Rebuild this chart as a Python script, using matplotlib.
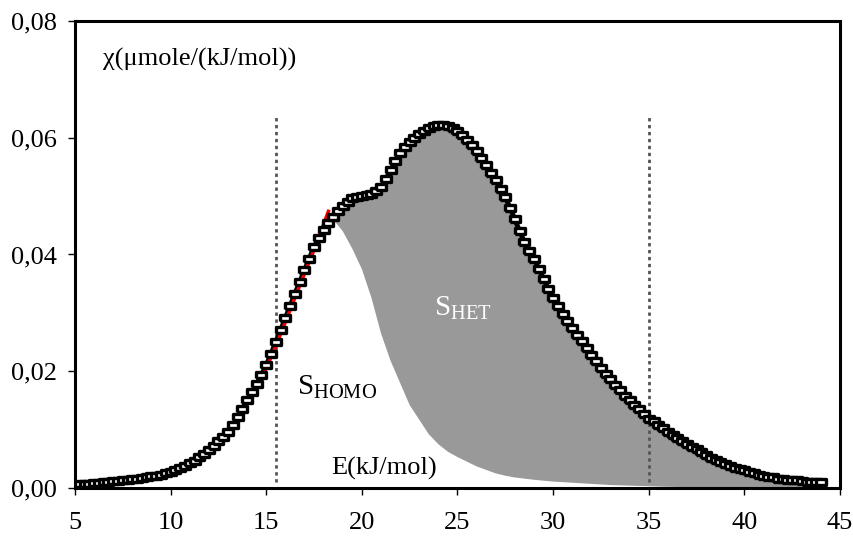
import numpy as np
import matplotlib
matplotlib.use("Agg")
import matplotlib.pyplot as plt

plt.rcParams['font.family'] = ['Liberation Serif', 'DejaVu Serif']
plt.rcParams['mathtext.fontset'] = 'custom'
plt.rcParams['mathtext.rm'] = 'Liberation Serif'

# measured isotherm distribution, E from 5.25 to 44.0 step 0.25
e_start, e_step = 5.25, 0.25
chi_exp = [
    0.0006, 0.0007, 0.0007,
    0.0008, 0.0009, 0.0010, 0.0011,
    0.0012, 0.0012, 0.0013, 0.0014,
    0.0015, 0.0016, 0.0017, 0.0018,
    0.0020, 0.0021, 0.0023, 0.0025,
    0.0028, 0.0031, 0.0035, 0.0038,
    0.0042, 0.0047, 0.0053, 0.0059,
    0.0065, 0.0072, 0.0080, 0.0088,
    0.0096, 0.0108, 0.0122, 0.0136,
    0.0150, 0.0164, 0.0178, 0.0194,
    0.0210, 0.0230, 0.0250, 0.0270,
    0.0291, 0.0312, 0.0333, 0.0353,
    0.0373, 0.0393, 0.0413, 0.0429,
    0.0442, 0.0454, 0.0465, 0.0475,
    0.0483, 0.0490, 0.0496, 0.0499,
    0.0501, 0.0502, 0.0504, 0.0508,
    0.0515, 0.0529, 0.0545, 0.0560,
    0.0574, 0.0585, 0.0593, 0.0600,
    0.0607, 0.0612, 0.0617, 0.0620,
    0.0622, 0.0622, 0.0620, 0.0616,
    0.0611, 0.0604, 0.0596, 0.0587,
    0.0577, 0.0566, 0.0553, 0.0540,
    0.0527, 0.0513, 0.0498, 0.0480,
    0.0460, 0.0440, 0.0421, 0.0406,
    0.0393, 0.0376, 0.0358, 0.0341,
    0.0325, 0.0311, 0.0298, 0.0286,
    0.0274, 0.0262, 0.0251, 0.0239,
    0.0228, 0.0217, 0.0206, 0.0196,
    0.0186, 0.0176, 0.0167, 0.0158,
    0.0150, 0.0143, 0.0136, 0.0127,
    0.0119, 0.0114, 0.0108, 0.0102,
    0.0096, 0.0091, 0.0086, 0.0081,
    0.0076, 0.0071, 0.0066, 0.0061,
    0.0057, 0.0052, 0.0048, 0.0044,
    0.0041, 0.0038, 0.0035, 0.0032,
    0.0030, 0.0027, 0.0025, 0.0023,
    0.0021, 0.0019, 0.0018, 0.0016,
    0.0015, 0.0014, 0.0013, 0.0013,
    0.0012, 0.0011, 0.0011, 0.0011,
    0.0010,
]
E_exp = e_start + e_step * np.arange(len(chi_exp))

# homogeneous fit, rising part (red line)
E_fit = [13.5, 14.0, 14.5, 15.0, 15.5, 16.0, 16.5, 17.0, 17.5, 18.0, 18.25]
chi_fit = [0.0116, 0.0143, 0.0172, 0.0205, 0.0243, 0.0284, 0.0326,
           0.0367, 0.0408, 0.0452, 0.0474]

# homogeneous contribution, falling part (lower edge of S_HET)
E_homo = [18.25, 18.5, 19.0, 19.5, 20.0, 20.5, 21.0, 21.5, 22.0, 22.5,
          23.0, 23.5, 24.0, 24.5, 25.0, 25.5, 26.0, 26.5, 27.0, 27.5,
          28.0, 29.0, 30.0, 31.0, 32.0, 33.0, 34.0, 35.0, 36.0, 38.0,
          40.0, 42.0, 44.0]
chi_homo = [0.0472, 0.0460, 0.0440, 0.0410, 0.0375, 0.0326, 0.0265, 0.0218,
            0.0180, 0.0142, 0.0117, 0.0092, 0.0075, 0.0062, 0.0053, 0.0045,
            0.0037, 0.0031, 0.0025, 0.0021, 0.0018, 0.0014, 0.0011, 0.0009,
            0.0007, 0.0005, 0.0004, 0.0003, 0.0002, 0.0001, 0.0001, 0.0,
            0.0]

v_lines = [15.5, 35.0]
x_ticks = [5, 10, 15, 20, 25, 30, 35, 40, 45]
y_ticks = [0.0, 0.02, 0.04, 0.06, 0.08]
y_labels = ['0,00', '0,02', '0,04', '0,06', '0,08']

fig = plt.figure(figsize=(8.54, 5.36), dpi=100)
ax = fig.add_axes([0.0878, 0.0896, 0.8958, 0.8712])

# S_HET area: between measured curve and homogeneous part
mask = E_exp >= E_homo[0]
poly_x = np.concatenate([E_exp[mask], np.array(E_homo)[::-1]])
poly_y = np.concatenate([np.array(chi_exp)[mask], np.array(chi_homo)[::-1]])
ax.fill(poly_x, poly_y, color='#999999', lw=0, zorder=1)

for xv in v_lines:
    ax.plot([xv, xv], [0.001, 0.064], color='#555555', lw=2.0,
            dashes=(1.2, 1.3), zorder=2)

# dark band under the markers so the chain looks continuous
ax.plot(E_exp, chi_exp, color='black', lw=3.5, zorder=3)
ax.plot(E_fit, chi_fit, color='red', lw=2.5, zorder=3.5)

rect = [(-1, -0.55), (1, -0.55), (1, 0.55), (-1, 0.55), (-1, -0.55)]
ax.plot(E_exp, chi_exp, ls='none', marker=rect, ms=7.8, mfc='white',
        mec='black', mew=2.4, zorder=4)

ax.set_xlim(5, 45)
ax.set_ylim(0, 0.08)
ax.set_xticks(x_ticks)
ax.set_yticks(y_ticks)
ax.set_yticklabels(y_labels)
ax.tick_params(direction='out', length=5, width=1, labelsize=19)
ax.tick_params(axis='x', pad=12)
ax.tick_params(axis='y', pad=8)
for sp in ax.spines.values():
    sp.set_linewidth(2.2)

ax.text(6.45, 0.0734, 'χ(μmole/(kJ/mol))', fontsize=19, va='center', ha='left')
ax.text(18.4, 0.0034, 'E(kJ/mol)', fontsize=19, va='center', ha='left')
ax.text(16.6, 0.0172, r'$\mathrm{S}_{\mathrm{HOMO}}$', fontsize=21,
        va='center', ha='left')
ax.text(23.75, 0.0308, r'$\mathrm{S}_{\mathrm{HET}}$', fontsize=21,
        va='center', ha='left', color='white')

fig.savefig('out.png', dpi=100)
